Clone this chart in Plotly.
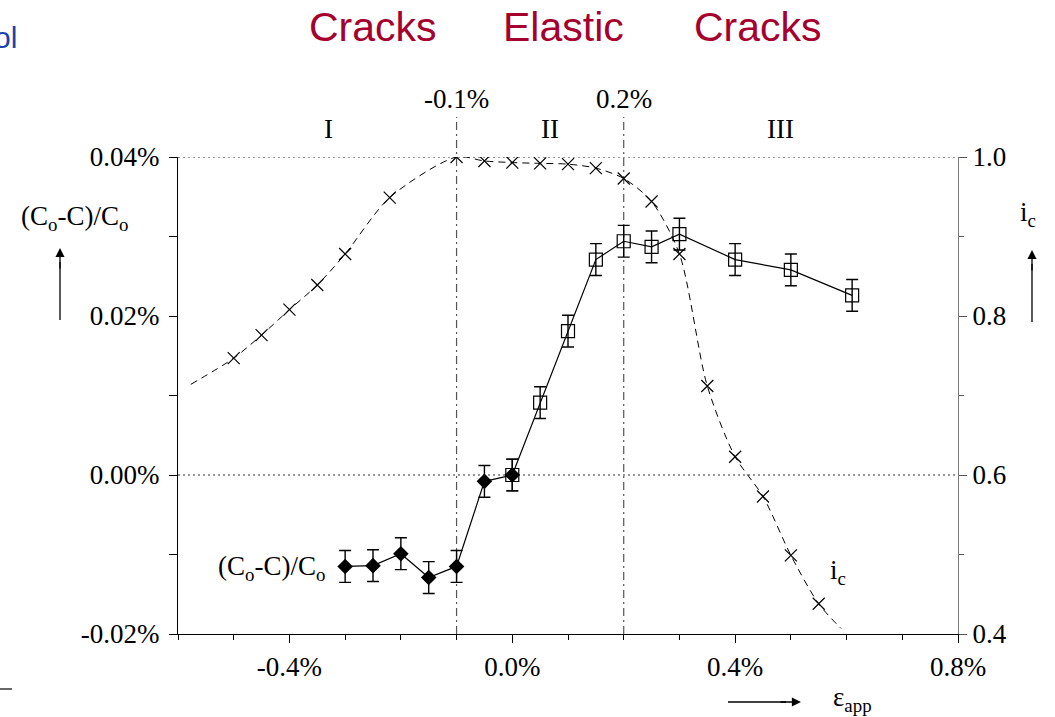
import plotly.graph_objects as go

# ---- data ----------------------------------------------------------------
# applied strain (%) for the current-efficiency curve i_c
ic_x = [-0.5, -0.45, -0.4, -0.35, -0.3, -0.22, -0.1, -0.05, 0.0, 0.05, 0.1,
        0.15, 0.2, 0.25, 0.3, 0.35, 0.4, 0.45, 0.5, 0.55]
ic_y = [0.747, 0.776, 0.808, 0.839, 0.878, 0.949, 1.0, 0.995, 0.993, 0.992,
        0.991, 0.986, 0.973, 0.944, 0.878, 0.712, 0.623, 0.573, 0.499, 0.438]
# ends of the fitted dashed curve (no marker)
ic_curve_start = (-0.577, 0.714)
ic_curve_end = (0.59, 0.407)

# (Co-C)/Co in compression (filled diamonds), %
comp_x = [-0.3, -0.25, -0.2, -0.15, -0.1, -0.05, 0.0]
comp_y = [-0.0115, -0.0114, -0.0099, -0.0129, -0.0115, -0.0008, 0.0]
comp_err = [0.002] * len(comp_x)

# (Co-C)/Co in tension (open squares), %
tens_x = [0.0, 0.05, 0.1, 0.15, 0.2, 0.25, 0.3, 0.4, 0.5, 0.61]
tens_y = [0.0, 0.0091, 0.0181, 0.0271, 0.0294, 0.0287, 0.0303, 0.0271, 0.0258, 0.0226]
tens_err = [0.002] * len(tens_x)

# region boundaries and labels
bounds = [-0.1, 0.2]
bound_labels = ["-0.1%", "0.2%"]
regions = ["I", "II", "III"]
region_x = [-0.33, 0.068, 0.482]
headers = ["Cracks", "Elastic", "Cracks"]

x_tickvals = [-0.4, 0.0, 0.4, 0.8]
x_ticktext = ["-0.4%", "0.0%", "0.4%", "0.8%"]
y_tickvals = [-0.02, 0.0, 0.02, 0.04]
y_ticktext = ["-0.02%", "0.00%", "0.02%", "0.04%"]
y2_tickvals = [0.4, 0.6, 0.8, 1.0]
y2_ticktext = ["0.4", "0.6", "0.8", "1.0"]

# ---- layout geometry --------------------------------------------------------
W, H = 1055, 717
ML, MR, MT, MB = 178, 97, 157, 83
PW, PH = W - ML - MR, H - MT - MB


def px(xp):
    return (xp - ML) / PW


def py(yp):
    return (H - MB - yp) / PH


SERIF = "Liberation Serif"
SANS = "Liberation Sans"
FS = 27

fig = go.Figure()

# dashed i_c curve
fig.add_trace(go.Scatter(
    x=[ic_curve_start[0]] + ic_x + [ic_curve_end[0]],
    y=[ic_curve_start[1]] + ic_y + [ic_curve_end[1]],
    mode="lines", yaxis="y2", line=dict(color="black", width=1, dash="7px,5px",
                                         shape="spline", smoothing=0.8),
    hoverinfo="skip", showlegend=False))
fig.add_trace(go.Scatter(
    x=ic_x, y=ic_y, mode="markers", yaxis="y2",
    marker=dict(symbol="x-thin", size=12, line=dict(color="black", width=1.2)),
    showlegend=False))

# tension (open squares)
fig.add_trace(go.Scatter(
    x=tens_x, y=tens_y, mode="lines+markers",
    line=dict(color="black", width=1.2),
    marker=dict(symbol="square-open", size=13, color="black", line=dict(width=1.2)),
    error_y=dict(type="data", array=tens_err, color="black", thickness=1.4, width=6),
    showlegend=False))

# compression (filled diamonds)
fig.add_trace(go.Scatter(
    x=comp_x, y=comp_y, mode="lines+markers",
    line=dict(color="black", width=1.2),
    marker=dict(symbol="diamond", size=12, color="black"),
    error_y=dict(type="data", array=comp_err, color="black", thickness=1.4, width=6),
    showlegend=False))

shapes = []
# dotted reference lines at 0.04% and 0.00%
for yv in (0.04, 0.0):
    shapes.append(dict(type="line", xref="paper", yref="y", x0=0, x1=1, y0=yv, y1=yv,
                       line=dict(color="#333", width=1.2, dash="2px,3px"), layer="below"))
# dash-dot region boundaries
for b in bounds:
    shapes.append(dict(type="line", xref="x", yref="paper", x0=b, x1=b, y0=0, y1=py(117),
                       line=dict(color="#555", width=1.2, dash="8px,4px,2px,4px"),
                       layer="below"))
# axis arrows
shapes.append(dict(type="line", xref="paper", yref="paper", x0=px(60), x1=px(60),
                   y0=py(320), y1=py(262), line=dict(color="black", width=1.3)))
shapes.append(dict(type="line", xref="paper", yref="paper", x0=px(1032), x1=px(1032),
                   y0=py(322), y1=py(264), line=dict(color="black", width=1.3)))
shapes.append(dict(type="line", xref="paper", yref="paper", x0=px(728), x1=px(786),
                   y0=py(702), y1=py(702), line=dict(color="black", width=1.3)))
# short rule at the lower-left edge of the slide
shapes.append(dict(type="line", xref="paper", yref="paper", x0=px(0), x1=px(12),
                   y0=py(689), y1=py(689), line=dict(color="black", width=1.2)))

annotations = []
# arrowheads
annotations.append(dict(xref="paper", yref="paper", x=px(60), y=py(248), ax=0, ay=22,
                        showarrow=True, arrowhead=2, arrowsize=1.4, arrowwidth=1.3,
                        arrowcolor="black", text=""))
annotations.append(dict(xref="paper", yref="paper", x=px(1032), y=py(250), ax=0, ay=22,
                        showarrow=True, arrowhead=2, arrowsize=1.4, arrowwidth=1.3,
                        arrowcolor="black", text=""))
annotations.append(dict(xref="paper", yref="paper", x=px(801), y=py(702), ax=-22, ay=0,
                        showarrow=True, arrowhead=2, arrowsize=1.4, arrowwidth=1.3,
                        arrowcolor="black", text=""))

txt = dict(showarrow=False, xanchor="center", yanchor="middle",
           font=dict(family=SERIF, size=FS, color="black"))
annotations.append(dict(xref="paper", yref="paper", x=px(74), y=py(218),
                        text="(C<sub>o</sub>-C)/C<sub>o</sub>", **txt))
annotations.append(dict(xref="paper", yref="paper", x=px(1028), y=py(214),
                        text="i<sub>c</sub>", **txt))
annotations.append(dict(xref="paper", yref="paper", x=px(852), y=py(699),
                        text="ε<sub>app</sub>", **txt))
annotations.append(dict(xref="x", yref="y2", x=0.585, y=0.478,
                        text="i<sub>c</sub>", **txt))
for b, lab in zip(bounds, bound_labels):
    annotations.append(dict(xref="x", yref="paper", x=b, y=py(99), text=lab, **txt))
for rx, lab in zip(region_x, regions):
    annotations.append(dict(xref="x", yref="paper", x=rx, y=py(129), text=lab, **txt))
annotations.append(dict(xref="x", yref="y", x=-0.333, y=-0.0117,
                        text="(C<sub>o</sub>-C)/C<sub>o</sub>", showarrow=False,
                        xanchor="right", yanchor="middle",
                        font=dict(family=SERIF, size=FS, color="black")))
for hx, lab in zip([373, 563, 758], headers):
    annotations.append(dict(xref="paper", yref="paper", x=px(hx), y=py(27), text=lab,
                            showarrow=False, xanchor="center", yanchor="middle",
                            font=dict(family=SANS, size=41, color="#a6002e")))
annotations.append(dict(xref="paper", yref="paper", x=px(19), y=py(38), xanchor="right",
                        yanchor="middle", text="ol", showarrow=False,
                        font=dict(family=SANS, size=30, color="#1a43ad")))

axis_font = dict(family=SERIF, size=FS, color="black")
fig.update_layout(
    width=W, height=H,
    margin=dict(l=ML, r=MR, t=MT, b=MB),
    paper_bgcolor="white", plot_bgcolor="white",
    showlegend=False,
    xaxis=dict(range=[-0.6, 0.8], tickvals=x_tickvals, ticktext=x_ticktext,
               showgrid=False, zeroline=False, showline=True, linecolor="black",
               linewidth=1.3, ticks="outside", ticklen=8, tickcolor="black",
               tickfont=axis_font,
               minor=dict(dtick=0.1, tick0=0, ticks="outside", ticklen=5,
                          tickcolor="black", showgrid=False)),
    yaxis=dict(range=[-0.02, 0.04], tickvals=y_tickvals, ticktext=y_ticktext,
               showgrid=False, zeroline=False, showline=True, linecolor="black",
               linewidth=1.3, ticks="outside", ticklen=8, tickcolor="black",
               tickfont=axis_font, ticklabelstandoff=4,
               minor=dict(dtick=0.01, tick0=0, ticks="outside", ticklen=8,
                          tickcolor="black", showgrid=False)),
    yaxis2=dict(range=[0.4, 1.0], overlaying="y", side="right",
                tickvals=y2_tickvals, ticktext=y2_ticktext,
                showgrid=False, zeroline=False, showline=True, linecolor="#777",
                linewidth=1.3, ticks="outside", ticklen=8, tickcolor="#555",
                tickfont=axis_font,
                minor=dict(dtick=0.1, tick0=0, ticks="outside", ticklen=5,
                           tickcolor="#555", showgrid=False)),
    shapes=shapes,
    annotations=annotations,
)

fig.write_html("out.html")
